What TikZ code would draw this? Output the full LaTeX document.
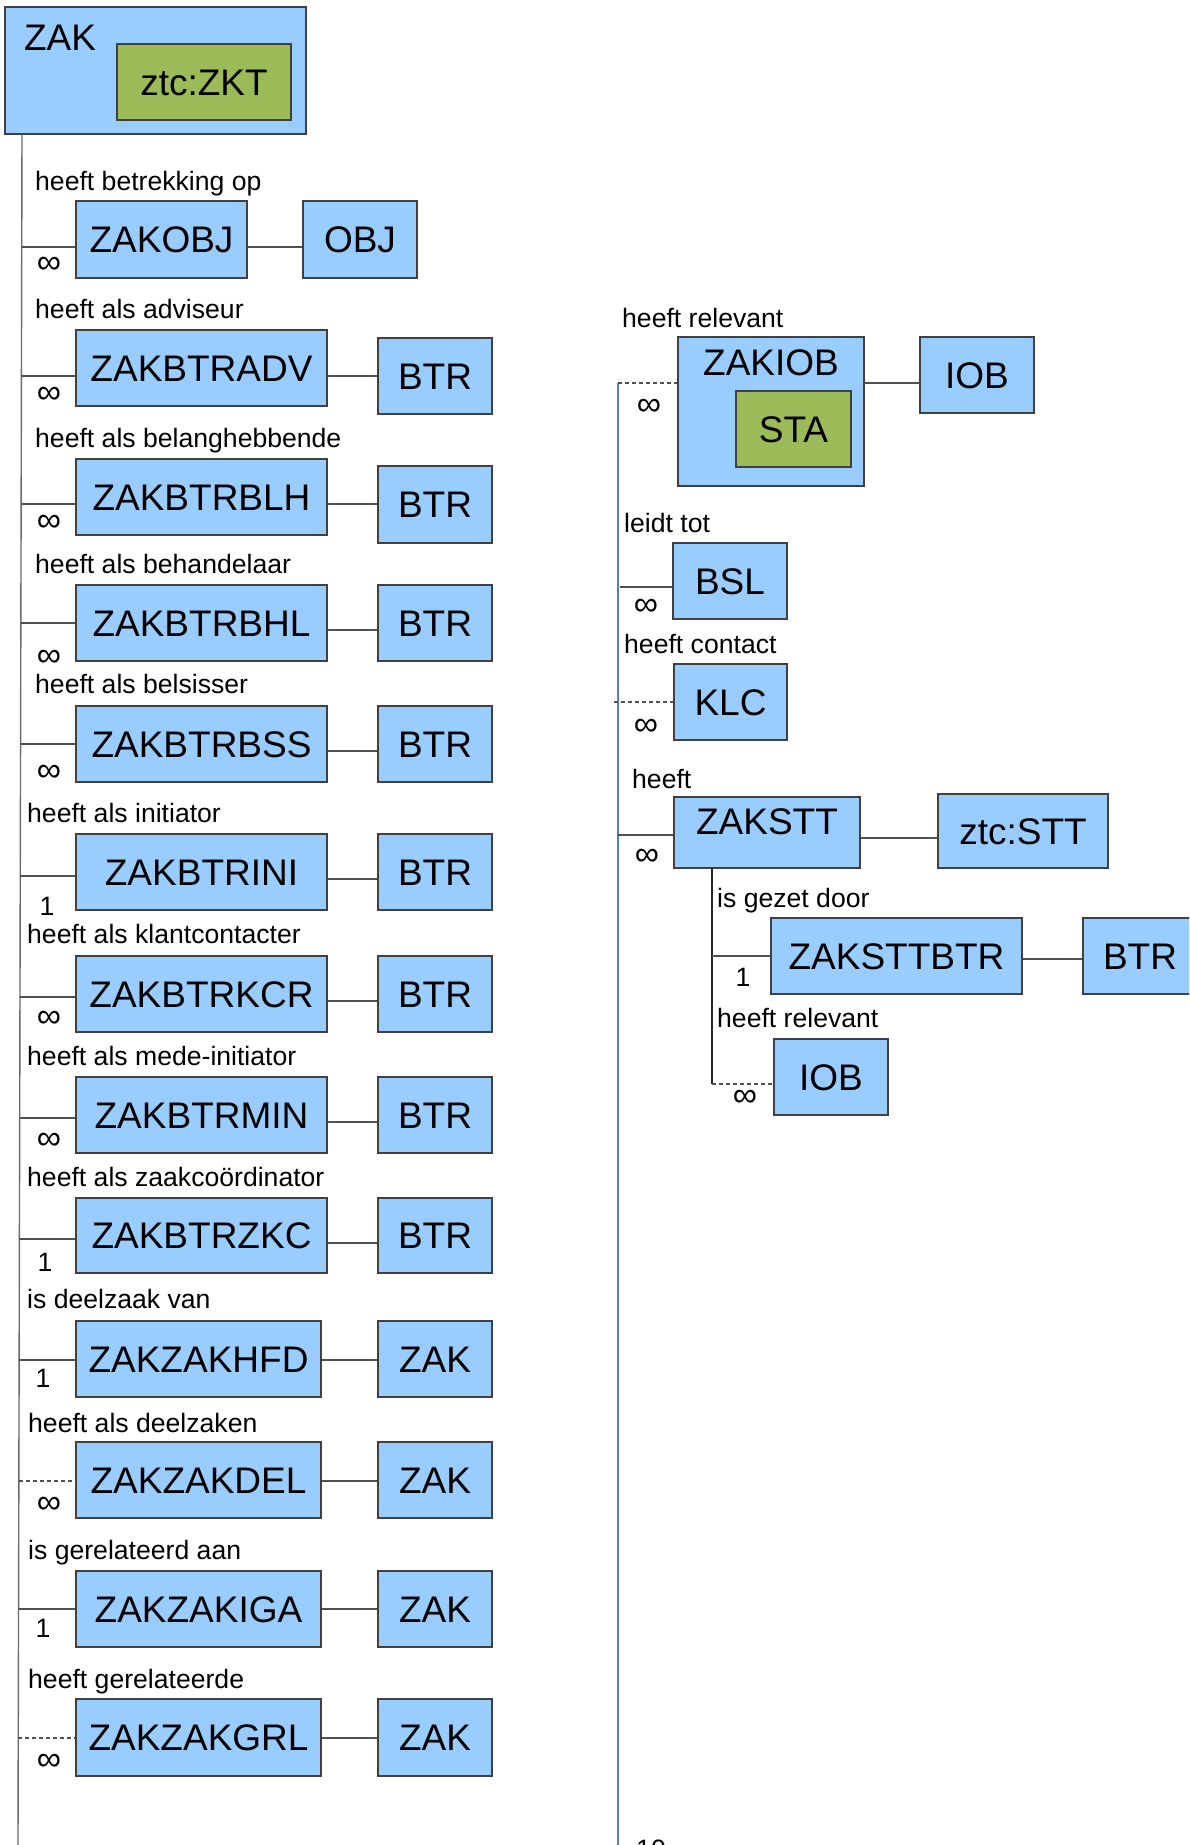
\documentclass[tikz,border=0pt]{standalone}
\usepackage{fontspec}
\setmainfont{Liberation Sans}
\newcommand\bigfnt{\fontsize{37}{44}\selectfont}
\newcommand\lblfnt{\fontsize{26.6}{31}\selectfont}
\newcommand\infnt{\fontsize{34}{38}\selectfont}
\definecolor{boxblue}{HTML}{99CCFF}
\definecolor{boxgreen}{HTML}{9BBB59}
\definecolor{boxline}{HTML}{404040}
\definecolor{connline}{HTML}{505050}
\definecolor{spineblue}{HTML}{4F81BD}
\tikzset{
  ent/.style={draw=boxline, fill=boxblue, line width=1.2pt, inner sep=0pt, font=\bigfnt, text height=26.5pt, text depth=0pt},
  sub/.style={ent, fill=boxgreen},
  txt/.style={inner sep=0pt, font=\bigfnt},
  lbl/.style={inner sep=0pt, font=\lblfnt, anchor=base west},
  mult/.style={inner sep=0pt, font=\lblfnt, anchor=center},
  infmult/.style={inner sep=0pt, font=\infnt, anchor=center},
  conn/.style={draw=connline, line width=1.2pt},
  dconn/.style={conn, dash pattern=on 4pt off 3pt},
  spine/.style={draw=connline!85, line width=1.4pt},
  bspine/.style={draw=spineblue, line width=1.4pt}
}
\begin{document}
\begin{tikzpicture}[x=1pt,y=-1pt]
\useasboundingbox (0,0) rectangle (1189,1845);
\clip (0,0) rectangle (1189,1845);

% ---------------- top ZAK ----------------
\node[ent, minimum width=301pt, minimum height=127pt] (zak) at (155.5,70.5) {};
\node[txt] (zaktxt) at (60,38) {ZAK};
\node[sub, minimum width=174pt, minimum height=76pt] (zkt) at (204,82) {ztc:ZKT};

% left spine
\coordinate (ls0) at (22,134);
\coordinate (ls1) at (18,1845);
\draw[spine] (ls0) -- (ls1);

% taps on left spine
\coordinate (t0) at (21.7,247);
\coordinate (t1) at (21.4,376);
\coordinate (t2) at (21.1,504);
\coordinate (t3) at (20.9,623);
\coordinate (t4) at (20.6,744);
\coordinate (t5) at (19.5,876);
\coordinate (t6) at (19.5,997);
\coordinate (t7) at (19.7,1118);
\coordinate (t8) at (19.4,1239);
\coordinate (t9) at (19.1,1360);
\coordinate (t10) at (18.9,1481);
\coordinate (t11) at (18.6,1609);
\coordinate (t12) at (18.3,1738);

% ---------------- left rows ----------------
\node[ent, minimum width=171pt, minimum height=77pt] (a0) at (161.5,239.5) {ZAKOBJ};
\node[ent, minimum width=114pt, minimum height=77pt] (b0) at (360,239.5) {OBJ};

\node[ent, minimum width=251pt, minimum height=76pt] (a1) at (201.5,368) {ZAKBTRADV};
\node[ent, minimum width=114pt, minimum height=76pt] (b1) at (435,376) {BTR};
\node[ent, minimum width=251pt, minimum height=76pt] (a2) at (201.5,497) {ZAKBTRBLH};
\node[ent, minimum width=114pt, minimum height=77pt] (b2) at (435,504.5) {BTR};
\node[ent, minimum width=251pt, minimum height=76pt] (a3) at (201.5,623) {ZAKBTRBHL};
\node[ent, minimum width=114pt, minimum height=76pt] (b3) at (435,623) {BTR};
\node[ent, minimum width=251pt, minimum height=76pt] (a4) at (201.5,744) {ZAKBTRBSS};
\node[ent, minimum width=114pt, minimum height=76pt] (b4) at (435,744) {BTR};
\node[ent, minimum width=251pt, minimum height=76pt] (a5) at (201.5,872) {ZAKBTRINI};
\node[ent, minimum width=114pt, minimum height=76pt] (b5) at (435,872) {BTR};
\node[ent, minimum width=251pt, minimum height=76pt] (a6) at (201.5,994) {ZAKBTRKCR};
\node[ent, minimum width=114pt, minimum height=76pt] (b6) at (435,994) {BTR};
\node[ent, minimum width=251pt, minimum height=76pt] (a7) at (201.5,1115) {ZAKBTRMIN};
\node[ent, minimum width=114pt, minimum height=76pt] (b7) at (435,1115) {BTR};
\node[ent, minimum width=251pt, minimum height=75pt] (a8) at (201.5,1235.5) {ZAKBTRZKC};
\node[ent, minimum width=114pt, minimum height=75pt] (b8) at (435,1235.5) {BTR};
\node[ent, minimum width=245pt, minimum height=76pt] (a9) at (198.5,1359) {ZAKZAKHFD};
\node[ent, minimum width=114pt, minimum height=76pt] (b9) at (435,1359) {ZAK};
\node[ent, minimum width=245pt, minimum height=76pt] (a10) at (198.5,1480) {ZAKZAKDEL};
\node[ent, minimum width=114pt, minimum height=76pt] (b10) at (435,1480) {ZAK};
\node[ent, minimum width=245pt, minimum height=76pt] (a11) at (198.5,1609) {ZAKZAKIGA};
\node[ent, minimum width=114pt, minimum height=76pt] (b11) at (435,1609) {ZAK};
\node[ent, minimum width=245pt, minimum height=77pt] (a12) at (198.5,1737.5) {ZAKZAKGRL};
\node[ent, minimum width=114pt, minimum height=77pt] (b12) at (435,1737.5) {ZAK};

% left connectors
\draw[conn] (t0) -- (a0.west |- t0);
\draw[conn] (t1) -- (a1.west |- t1);
\draw[conn] (t2) -- (a2.west |- t2);
\draw[conn] (t3) -- (a3.west |- t3);
\draw[conn] (t4) -- (a4.west |- t4);
\draw[conn] (t5) -- (a5.west |- t5);
\draw[conn] (t6) -- (a6.west |- t6);
\draw[conn] (t7) -- (a7.west |- t7);
\draw[conn] (t8) -- (a8.west |- t8);
\draw[conn] (t9) -- (a9.west |- t9);
\draw[dconn] (t10) -- (a10.west |- t10);
\draw[conn] (t11) -- (a11.west |- t11);
\draw[dconn] (t12) -- (a12.west |- t12);

% right connectors
\draw[conn] (a0.east |- 0,247) -- (b0.west |- 0,247);
\draw[conn] (a1.east |- 0,376) -- (b1.west |- 0,376);
\draw[conn] (a2.east |- 0,504) -- (b2.west |- 0,504);
\draw[conn] (a3.east |- 0,630) -- (b3.west |- 0,630);
\draw[conn] (a4.east |- 0,751) -- (b4.west |- 0,751);
\draw[conn] (a5.east |- 0,879) -- (b5.west |- 0,879);
\draw[conn] (a6.east |- 0,1001) -- (b6.west |- 0,1001);
\draw[conn] (a7.east |- 0,1122) -- (b7.west |- 0,1122);
\draw[conn] (a8.east |- 0,1243) -- (b8.west |- 0,1243);
\draw[conn] (a9.east |- 0,1360) -- (b9.west |- 0,1360);
\draw[conn] (a10.east |- 0,1481) -- (b10.west |- 0,1481);
\draw[conn] (a11.east |- 0,1609) -- (b11.west |- 0,1609);
\draw[conn] (a12.east |- 0,1738) -- (b12.west |- 0,1738);

% left labels
\node[lbl] (l0) at (35,190) {heeft betrekking op};
\node[lbl] (l1) at (35,318) {heeft als adviseur};
\node[lbl] (l2) at (35,447) {heeft als belanghebbende};
\node[lbl] (l3) at (35,573) {heeft als behandelaar};
\node[lbl] (l4) at (35,693) {heeft als belsisser};
\node[lbl] (l5) at (27,822) {heeft als initiator};
\node[lbl] (l6) at (27,943) {heeft als klantcontacter};
\node[lbl] (l7) at (27,1065) {heeft als mede-initiator};
\node[lbl] (l8) at (27,1186) {heeft als zaakcoördinator};
\node[lbl] (l9) at (27,1308) {is deelzaak van};
\node[lbl] (l10) at (28,1432) {heeft als deelzaken};
\node[lbl] (l11) at (28,1559) {is gerelateerd aan};
\node[lbl] (l12) at (28,1688) {heeft gerelateerde};

% left multiplicities
\node[infmult] (m0) at (49,265) {∞};
\node[infmult] (m1) at (49,395) {∞};
\node[infmult] (m2) at (49,523) {∞};
\node[infmult] (m3) at (49,658) {∞};
\node[infmult] (m4) at (49,773) {∞};
\node[mult] (m5) at (47,906) {1};
\node[infmult] (m6) at (49,1019) {∞};
\node[infmult] (m7) at (49,1141) {∞};
\node[mult] (m8) at (45,1262) {1};
\node[mult] (m9) at (43,1378) {1};
\node[infmult] (m10) at (49,1505) {∞};
\node[mult] (m11) at (43,1628) {1};
\node[infmult] (m12) at (49,1762) {∞};

% ---------------- right column ----------------
\coordinate (rs0) at (618,383);
\coordinate (rs1) at (618,1845);
\draw[bspine] (rs0) -- (rs1);

\node[ent, minimum width=186pt, minimum height=149pt] (zakiob) at (771,411.5) {};
\node[txt] (zakiobtxt) at (771,363) {ZAKIOB};
\node[sub, minimum width=115pt, minimum height=76pt] (sta) at (793.5,429) {STA};
\node[ent, minimum width=114pt, minimum height=76pt] (iob1) at (977,375) {IOB};
\node[ent, minimum width=114pt, minimum height=76pt] (bsl) at (730,581) {BSL};
\node[ent, minimum width=113pt, minimum height=76pt] (klc) at (730.5,702) {KLC};
\node[ent, minimum width=186pt, minimum height=71pt] (zakstt) at (767,832.5) {};
\node[txt] (zaksttxt) at (767,822) {ZAKSTT};
\node[ent, minimum width=170pt, minimum height=74pt] (ztcstt) at (1023,831) {ztc:STT};
\node[ent, minimum width=251pt, minimum height=76pt] (zaksttbtr) at (896.5,956) {ZAKSTTBTR};
\node[ent, minimum width=114pt, minimum height=76pt] (btr9) at (1140,956) {BTR};
\node[ent, minimum width=114pt, minimum height=76pt] (iob2) at (831,1077) {IOB};

\coordinate (rt1) at (620,587);
\coordinate (rt2) at (614,702);
\coordinate (rt3) at (618,835);
\draw[dconn] (rs0) -- (zakiob.west |- rs0);
\draw[conn] (zakiob.east |- 0,383) -- (iob1.west |- 0,383);
\draw[conn] (rt1) -- (bsl.west |- rt1);
\draw[dconn] (rt2) -- (klc.west |- rt2);
\draw[conn] (rt3) -- (zakstt.west |- rt3);
\draw[conn] (zakstt.east |- 0,838) -- (ztcstt.west |- 0,838);

\coordinate (ss0) at (712,868);
\coordinate (ss1) at (712,1084);
\draw[conn, draw=black!85] (ss0) -- (ss1);
\draw[conn] (712,956) -- (zaksttbtr.west |- 0,956);
\draw[conn] (zaksttbtr.east |- 0,959) -- (btr9.west |- 0,959);
\draw[dconn] (ss1) -- (iob2.west |- ss1);

\node[lbl] (r0) at (622,327) {heeft relevant};
\node[lbl] (r1) at (624,532) {leidt tot};
\node[lbl] (r2) at (624,653) {heeft contact};
\node[lbl] (r3) at (632,788) {heeft};
\node[lbl] (r4) at (717,907) {is gezet door};
\node[lbl] (r5) at (717,1027) {heeft relevant};

\node[infmult] (n0) at (649,407) {∞};
\node[infmult] (n1) at (646,607) {∞};
\node[infmult] (n2) at (646,727) {∞};
\node[infmult] (n3) at (647,857) {∞};
\node[mult] (n4) at (743,977) {1};
\node[infmult] (n5) at (745,1098) {∞};

% page number, cut off at the bottom edge
\node[inner sep=0pt, font=\lblfnt, anchor=north] (pg) at (651,1840) {10};
\end{tikzpicture}
\end{document}
